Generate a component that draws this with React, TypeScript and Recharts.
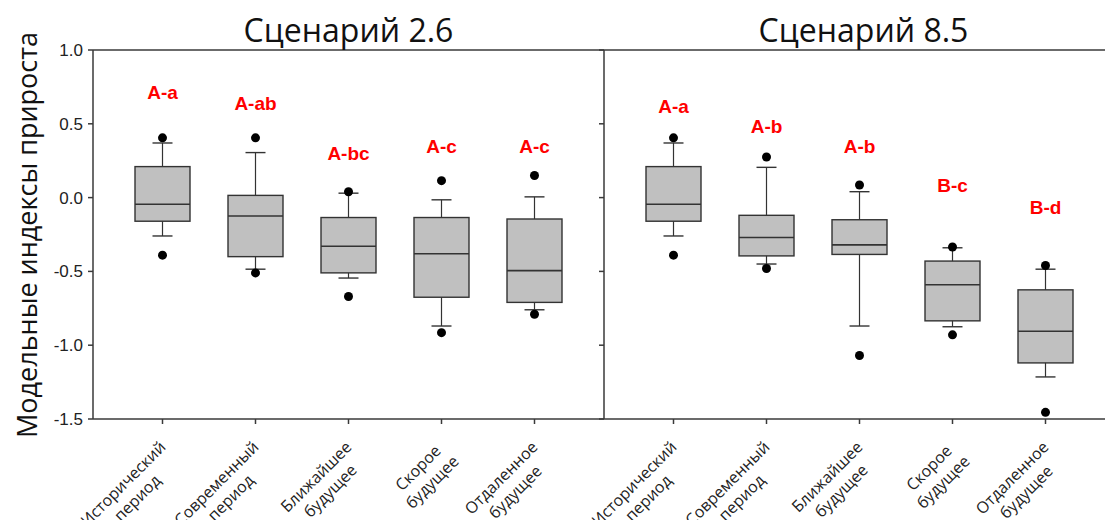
import React from "react"
import { ComposedChart, Bar, Scatter, XAxis, YAxis, ReferenceLine } from "recharts"

const categories = [
  "Исторический период",
  "Современный период",
  "Ближайшее будущее",
  "Скорое будущее",
  "Отдаленное будущее",
]

// [low outlier, lower whisker, Q1, median, Q3, upper whisker, high outlier]
const boxes26 = [
  [-0.39, -0.26, -0.16, -0.045, 0.21, 0.37, 0.405],
  [-0.51, -0.485, -0.4, -0.125, 0.015, 0.305, 0.405],
  [-0.67, -0.545, -0.51, -0.33, -0.135, 0.03, 0.04],
  [-0.915, -0.87, -0.675, -0.38, -0.135, -0.015, 0.115],
  [-0.79, -0.76, -0.71, -0.495, -0.145, 0.005, 0.15],
]
const boxes85 = [
  [-0.39, -0.26, -0.16, -0.045, 0.21, 0.37, 0.405],
  [-0.48, -0.45, -0.395, -0.27, -0.12, 0.205, 0.275],
  [-1.07, -0.87, -0.385, -0.32, -0.15, 0.04, 0.085],
  [-0.93, -0.875, -0.835, -0.59, -0.43, -0.34, -0.335],
  [-1.455, -1.215, -1.12, -0.905, -0.625, -0.485, -0.46],
]

// significance letters and the level they sit at
const letters26 = ["A-a", "A-ab", "A-bc", "A-c", "A-c"]
const letterAt26 = [0.71, 0.64, 0.3, 0.345, 0.345]
const letters85 = ["A-a", "A-b", "A-b", "B-c", "B-d"]
const letterAt85 = [0.615, 0.48, 0.345, 0.085, -0.065]

const yTicks = [-1.5, -1.0, -0.5, 0.0, 0.5, 1.0]

const AXIS = "#3a3a3a"

function buildRows(boxes: number[][], letters: string[], letterAt: number[]) {
  return categories.map((cat, i) => {
    const b = boxes[i]
    return {
      cat,
      stats: b,
      whisker: [b[1], b[5]],
      outLo: b[0],
      outHi: b[6],
      letter: letters[i],
      letterAt: letterAt[i],
    }
  })
}

const rows26 = buildRows(boxes26, letters26, letterAt26)
const rows85 = buildRows(boxes85, letters85, letterAt85)

const LABEL_SIZE = 16
const ctx = document.createElement("canvas").getContext("2d")
if (ctx) ctx.font = `${LABEL_SIZE}px "Open Sans"`
const textWidth = (s: string) => (ctx ? ctx.measureText(s).width : s.length * 8.5)

function BoxShape(props: any) {
  const { x, y, width, height, payload } = props
  const [, lo, q1, med, q3, hi] = payload.stats
  const top = Math.min(y, y + height)
  const bottom = Math.max(y, y + height)
  const px = (v: number) => top + ((hi - v) / (hi - lo)) * (bottom - top)
  const cx = x + width / 2
  const cap = 10
  return (
    <g stroke="#333" fill="none">
      <line x1={cx} x2={cx} y1={px(hi)} y2={px(lo)} strokeWidth={1.2} />
      <line x1={cx - cap} x2={cx + cap} y1={px(hi)} y2={px(hi)} strokeWidth={1.4} />
      <line x1={cx - cap} x2={cx + cap} y1={px(lo)} y2={px(lo)} strokeWidth={1.4} />
      <rect x={x} y={px(q3)} width={width} height={px(q1) - px(q3)} fill="#c0c0c0" strokeWidth={1.4} />
      <line x1={x} x2={x + width} y1={px(med)} y2={px(med)} strokeWidth={1.6} />
    </g>
  )
}

const Dot = (props: any) => <circle cx={props.cx} cy={props.cy} r={4.5} fill="#000" />

const Letter = (props: any) => (
  <text
    x={props.cx}
    y={props.cy}
    textAnchor="middle"
    dominantBaseline="central"
    fill="#ff0000"
    fontFamily="'Liberation Sans', Arial, sans-serif"
    fontWeight="bold"
    fontSize={19}
  >
    {props.payload.letter}
  </text>
)

function CategoryTick({ x, y, payload }: any) {
  const lines = String(payload.value).split(" ")
  const w = Math.max(...lines.map(textWidth))
  return (
    <g transform={`translate(${x + 7},${y + 25}) rotate(-45)`}>
      {lines.map((s, i) => (
        <text
          key={i}
          x={-w / 2}
          y={(i - 0.5) * 20}
          textAnchor="middle"
          dominantBaseline="central"
          fontFamily="'Open Sans', sans-serif"
          fontSize={LABEL_SIZE}
          fill="#222"
        >
          {s}
        </text>
      ))}
    </g>
  )
}

function Panel({ rows, showLabels }: { rows: any[]; showLabels: boolean }) {
  const yw = showLabels ? 60 : 20
  return (
    <ComposedChart
      width={showLabels ? 620 : 541}
      height={520}
      data={rows}
      margin={{ top: 50, right: showLabels ? 16 : 10, bottom: 21, left: showLabels ? 33 : 0 }}
      barSize={55}
      style={{ overflow: "visible" }}
    >
      <XAxis
        dataKey="cat"
        type="category"
        padding={{ left: 23, right: 23 }}
        height={80}
        interval={0}
        tickSize={5}
        stroke={AXIS}
        strokeWidth={1.5}
        tick={<CategoryTick />}
      />
      <YAxis
        type="number"
        domain={[-1.5, 1]}
        ticks={yTicks}
        allowDataOverflow
        width={yw}
        tickSize={5}
        tickMargin={5}
        stroke={AXIS}
        strokeWidth={1.5}
        tickFormatter={(v: number) => (showLabels ? v.toFixed(1) : "")}
        tick={{ fill: "#222", fontSize: 17, fontFamily: "'Liberation Sans', Arial, sans-serif" }}
      />
      <ReferenceLine y={1} stroke={AXIS} strokeWidth={1.5} />
      <Bar dataKey="whisker" shape={<BoxShape />} isAnimationActive={false} />
      <Scatter dataKey="outHi" shape={<Dot />} isAnimationActive={false} />
      <Scatter dataKey="outLo" shape={<Dot />} isAnimationActive={false} />
      <Scatter dataKey="letterAt" shape={<Letter />} isAnimationActive={false} />
    </ComposedChart>
  )
}

const titleStyle: React.CSSProperties = {
  position: "absolute",
  top: 12,
  height: 36,
  lineHeight: "36px",
  width: 511,
  textAlign: "center",
  fontFamily: "'Open Sans', sans-serif",
  fontSize: 32,
  color: "#111",
}

export default function App() {
  return (
    <div
      style={{
        position: "absolute",
        left: 0,
        top: 0,
        width: 1105,
        height: 520,
        overflow: "hidden",
        background: "#fff",
      }}
    >
      <div style={{ position: "absolute", left: 0, top: 0 }}>
        <Panel rows={rows26} showLabels />
      </div>
      <div style={{ position: "absolute", left: 584, top: 0 }}>
        <Panel rows={rows85} showLabels={false} />
      </div>
      <div style={{ ...titleStyle, left: 93 }}>Сценарий 2.6</div>
      <div style={{ ...titleStyle, left: 608 }}>Сценарий 8.5</div>
      <div
        style={{
          position: "absolute",
          left: 27 - 235,
          top: 235 - 16,
          width: 470,
          height: 32,
          lineHeight: "32px",
          textAlign: "center",
          transform: "rotate(-90deg)",
          fontFamily: "'Open Sans', sans-serif",
          fontSize: 27,
          color: "#111",
        }}
      >
        Модельные индексы прироста
      </div>
    </div>
  )
}
